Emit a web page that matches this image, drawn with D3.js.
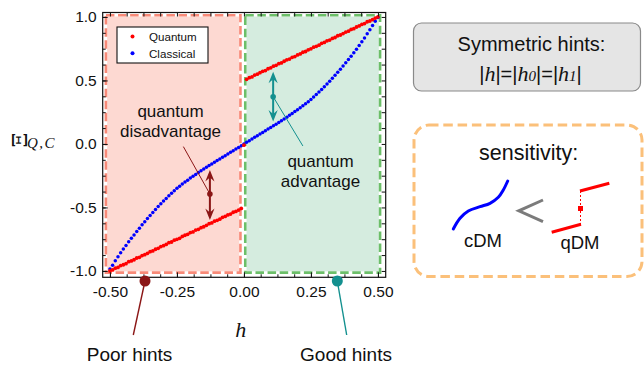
<!DOCTYPE html>
<html><head><meta charset="utf-8">
<script src="https://cdn.jsdelivr.net/npm/d3@7"></script>
<style>body{margin:0;background:#fff} svg{display:block}</style>
</head><body>
<svg id="c" width="644" height="366"></svg>
<script>
// ---------- data ----------
const hStart = -0.5, hStep = 0.01;   // h grid: -0.50 ... 0.50
const quantum = [
 -1.000,-0.992,-0.978,-0.972,-0.958,-0.951,-0.943,-0.927,-0.921,-0.912,
 -0.898,-0.893,-0.879,-0.872,-0.861,-0.848,-0.842,-0.829,-0.822,-0.808,
 -0.801,-0.791,-0.777,-0.772,-0.758,-0.751,-0.743,-0.728,-0.719,-0.712,
 -0.698,-0.693,-0.678,-0.672,-0.659,-0.652,-0.641,-0.628,-0.622,-0.608,
 -0.601,-0.592,-0.578,-0.571,-0.559,-0.552,-0.538,-0.531,-0.521,-0.508,
 -0.010,
  0.509, 0.522, 0.528, 0.542, 0.549, 0.561, 0.572, 0.578, 0.592, 0.599,
  0.612, 0.619, 0.632, 0.638, 0.651, 0.662, 0.668, 0.682, 0.688, 0.701,
  0.709, 0.722, 0.728, 0.741, 0.749, 0.762, 0.769, 0.778, 0.792, 0.799,
  0.812, 0.818, 0.831, 0.838, 0.852, 0.858, 0.869, 0.881, 0.888, 0.902,
  0.908, 0.921, 0.929, 0.941, 0.948, 0.962, 0.968, 0.979, 0.991, 1.000];
const classical = [
 -0.985,-0.955,-0.920,-0.888,-0.857,-0.828,-0.800,-0.771,-0.743,-0.716,
 -0.689,-0.663,-0.637,-0.613,-0.588,-0.563,-0.540,-0.517,-0.493,-0.471,
 -0.449,-0.429,-0.408,-0.388,-0.369,-0.349,-0.333,-0.316,-0.300,-0.285,
 -0.269,-0.254,-0.240,-0.225,-0.211,-0.197,-0.183,-0.170,-0.157,-0.144,
 -0.131,-0.118,-0.105,-0.092,-0.079,-0.066,-0.053,-0.040,-0.027,-0.014,
  0.000,
  0.013, 0.026, 0.039, 0.052, 0.065, 0.078, 0.091, 0.104, 0.117, 0.130,
  0.143, 0.156, 0.169, 0.182, 0.196, 0.210, 0.225, 0.240, 0.255, 0.270,
  0.285, 0.301, 0.317, 0.333, 0.350, 0.369, 0.389, 0.409, 0.429, 0.450,
  0.472, 0.494, 0.517, 0.541, 0.565, 0.589, 0.614, 0.639, 0.664, 0.690,
  0.718, 0.746, 0.775, 0.805, 0.835, 0.867, 0.899, 0.932, 0.966, 0.995];
const seriesNames = ["Quantum", "Classical"];
const xTicks = [-0.5, -0.25, 0, 0.25, 0.5];
const xTickLabels = ["-0.50", "-0.25", "0.00", "0.25", "0.50"];
const yTicks = [-1, -0.5, 0, 0.5, 1];
const yTickLabels = ["-1.0", "-0.5", "0.0", "0.5", "1.0"];
const xMinorStep = 0.0625, yMinorStep = 0.125;
const regions = [
  {h0: -0.515, h1: -0.013, v0: -1.013, v1: 1.013, key: "poor"},
  {h0: 0.005, h1: 0.508, v0: -1.013, v1: 1.013, key: "good"}];
// annotation anchors (data coords)
const disArrow = {h: -0.127, top: -0.205, bottom: -0.598, mid: -0.394, ptrH: -0.226, ptrV: -0.021};
const advArrow = {h: 0.109, top: 0.569, bottom: 0.176, mid: 0.372, ptrH: 0.220, ptrV: -0.016};

// ---------- styles ----------
const SANS = "'Liberation Sans', Arial, Helvetica, sans-serif";
const SERIF = "'Liberation Serif', 'Times New Roman', serif";
const RED = "#ff0000", BLUE = "#0000ff";
const DARKRED = "#8b1616", TEAL = "#13908f";
const regionStyle = {
  poor: {fill: "#fdd9d2", stroke: "#f88a78"},
  good: {fill: "#d5ecdf", stroke: "#6cbf69"}};

const svg = d3.select("#c");
const L = 102.7, R = 385.7, T = 12.5, B = 277.3;
const x = d3.scaleLinear().domain([-0.527, 0.529]).range([L, R]);
const y = d3.scaleLinear().domain([-1.05, 1.035]).range([B, T]);

const hOf = i => hStart + i * hStep;

// regions
const gReg = svg.append("g");
regions.forEach(r => {
  const st = regionStyle[r.key];
  const rx = x(r.h0), ry = y(r.v1), rw = x(r.h1) - x(r.h0), rh = y(r.v0) - y(r.v1);
  gReg.append("rect").attr("x", rx).attr("y", ry).attr("width", rw).attr("height", rh)
    .attr("fill", st.fill).attr("stroke", "#fff").attr("stroke-width", 2.5);
  gReg.append("rect").attr("x", rx).attr("y", ry).attr("width", rw).attr("height", rh)
    .attr("fill", "none").attr("stroke", st.stroke).attr("stroke-width", 2.6)
    .attr("stroke-dasharray", "8.5,3.6");
});

// series
svg.append("g").selectAll("circle").data(classical).join("circle")
  .attr("cx", (d, i) => x(hOf(i))).attr("cy", d => y(d)).attr("r", 1.75).attr("fill", BLUE);
svg.append("g").selectAll("circle").data(quantum).join("circle")
  .attr("cx", (d, i) => x(hOf(i))).attr("cy", d => y(d)).attr("r", 1.9).attr("fill", RED);

// double arrows
function dblArrow(a, color) {
  const g = svg.append("g");
  const cx = x(a.h), y1 = y(a.top), y2 = y(a.bottom), ym = y(a.mid);
  g.append("line").attr("x1", x(a.ptrH)).attr("y1", y(a.ptrV)).attr("x2", cx).attr("y2", ym)
    .attr("stroke", color).attr("stroke-width", 1);
  g.append("line").attr("x1", cx).attr("x2", cx).attr("y1", y1 + 4).attr("y2", y2 - 4)
    .attr("stroke", color).attr("stroke-width", 2);
  const hw = 4.6, hl = 11.5, notch = 7.5;
  g.append("path").attr("fill", color)
    .attr("d", `M${cx},${y1}L${cx + hw},${y1 + hl}L${cx},${y1 + notch}L${cx - hw},${y1 + hl}Z`);
  g.append("path").attr("fill", color)
    .attr("d", `M${cx},${y2}L${cx + hw},${y2 - hl}L${cx},${y2 - notch}L${cx - hw},${y2 - hl}Z`);
  g.append("circle").attr("cx", cx).attr("cy", ym).attr("r", 2.8).attr("fill", color);
}
dblArrow(disArrow, DARKRED);
dblArrow(advArrow, TEAL);

// annotation texts
const ann = svg.append("g").attr("font-family", SANS).attr("font-size", 17).attr("text-anchor", "middle").attr("fill", "#111");
ann.append("text").attr("x", 170.5).attr("y", 117).text("quantum");
ann.append("text").attr("x", 170.5).attr("y", 137).text("disadvantage");
ann.append("text").attr("x", 320.5).attr("y", 166.5).text("quantum");
ann.append("text").attr("x", 320.5).attr("y", 187).text("advantage");

// legend
const lg = svg.append("g");
lg.append("rect").attr("x", 117).attr("y", 27).attr("width", 91).attr("height", 36)
  .attr("fill", "#fff").attr("stroke", "#111").attr("stroke-width", 1.1);
[RED, BLUE].forEach((c, i) => {
  lg.append("circle").attr("cx", 132.5).attr("cy", 36.5 + i * 16.8).attr("r", 2).attr("fill", c);
  lg.append("text").attr("x", 149).attr("y", 40.7 + i * 16.8).attr("font-family", SANS)
    .attr("font-size", 11.6).attr("fill", "#111").text(seriesNames[i]);
});

// axes
function styleAxis(g) {
  g.select(".domain").remove();
  g.selectAll(".tick line").attr("stroke", "#111");
  g.selectAll(".tick text").attr("font-family", SANS).attr("font-size", 15.5).attr("fill", "#111");
}
const xMinor = d3.range(-0.5, 0.5001, xMinorStep);
const yMinor = d3.range(-1, 1.0001, yMinorStep);
svg.append("g").attr("transform", `translate(0,${B})`)
  .call(d3.axisBottom(x).tickValues(xMinor).tickSize(-3).tickFormat("")).call(styleAxis);
svg.append("g").attr("transform", `translate(0,${B})`)
  .call(d3.axisBottom(x).tickValues(xTicks).tickFormat((d, i) => xTickLabels[i]).tickSizeInner(-5).tickSizeOuter(0).tickPadding(9)).call(styleAxis);
svg.append("g").attr("transform", `translate(0,${T})`)
  .call(d3.axisTop(x).tickValues(xMinor).tickSize(-4).tickFormat("")).call(styleAxis);
svg.append("g").attr("transform", `translate(${L},0)`)
  .call(d3.axisLeft(y).tickValues(yMinor).tickSize(-3).tickFormat("")).call(styleAxis);
svg.append("g").attr("transform", `translate(${L},0)`)
  .call(d3.axisLeft(y).tickValues(yTicks).tickFormat((d, i) => yTickLabels[i]).tickSizeInner(-5).tickSizeOuter(0).tickPadding(6)).call(styleAxis);
svg.append("g").attr("transform", `translate(${R},0)`)
  .call(d3.axisRight(y).tickValues(yMinor).tickSize(-4).tickFormat("")).call(styleAxis);
svg.append("rect").attr("x", L).attr("y", T).attr("width", R - L).attr("height", B - T)
  .attr("fill", "none").attr("stroke", "#111").attr("stroke-width", 1.2);

// axis titles
svg.append("text").attr("x", 240.8).attr("y", 336.5).attr("text-anchor", "middle")
  .attr("font-family", SERIF).attr("font-style", "italic").attr("font-size", 22).attr("fill", "#111").text("h");
svg.append("text").attr("transform", "translate(19.5,140) rotate(-90)").attr("text-anchor", "middle")
  .attr("dy", "0.36em").attr("font-family", "'DejaVu Serif', serif").attr("font-size", 21).attr("fill", "#111").text("Ξ");
svg.append("text").attr("x", 27).attr("y", 148).attr("font-family", SERIF).attr("font-style", "italic")
  .attr("font-size", 15).attr("letter-spacing", 1.5).attr("fill", "#111").text("Q,C");

// hint markers
function hintMarker(cx, cy, ex, ey, color, label, tx) {
  svg.append("line").attr("x1", cx).attr("y1", cy).attr("x2", ex).attr("y2", ey)
    .attr("stroke", color).attr("stroke-width", 1.4);
  svg.append("circle").attr("cx", cx).attr("cy", cy).attr("r", 5.5).attr("fill", color);
  svg.append("text").attr("x", tx).attr("y", 361).attr("text-anchor", "middle")
    .attr("font-family", SANS).attr("font-size", 19).attr("fill", "#111").text(label);
}
hintMarker(145, 281, 133.3, 335, DARKRED, "Poor hints", 129.5);
hintMarker(337.3, 281, 346.7, 335, TEAL, "Good hints", 346);

// right boxes
svg.append("rect").attr("x", 413.5).attr("y", 23).attr("width", 227).attr("height", 68).attr("rx", 8)
  .attr("fill", "#e5e5e5").attr("stroke", "#8a8a8a").attr("stroke-width", 1.2);
svg.append("text").attr("x", 531.5).attr("y", 50.5).attr("text-anchor", "middle")
  .attr("font-family", SANS).attr("font-size", 20).attr("fill", "#111").text("Symmetric hints:");
const eq = svg.append("text").attr("x", 530.5).attr("y", 81).attr("text-anchor", "middle")
  .attr("font-family", SANS).attr("font-size", 20).attr("fill", "#111");
const parts = [["|", 0], ["h", 1], ["|=|", 0], ["h", 1], ["0", 2], ["|=|", 0], ["h", 1], ["1", 2], ["|", 0]];
parts.forEach(([t, k]) => {
  const ts = eq.append("tspan").text(t);
  if (k >= 1) ts.attr("font-family", SERIF).attr("font-style", "italic").attr("font-size", k === 1 ? 22 : 15);
});

svg.append("rect").attr("x", 414).attr("y", 125).attr("width", 228).attr("height", 151.5).attr("rx", 15)
  .attr("fill", "none").attr("stroke", "#fbc07a").attr("stroke-width", 3).attr("stroke-dasharray", "9.5,4.8");
svg.append("text").attr("x", 528.6).attr("y", 160).attr("text-anchor", "middle")
  .attr("font-family", SANS).attr("font-size", 21.5).attr("fill", "#111").text("sensitivity:");

// cDM icon
const iconPts = [[453.3,229],[460,218.3],[468.3,211],[480,206.7],[490,203.3],[498.3,197.3],[503.3,190],[507.7,181]];
svg.append("path").attr("d", d3.line().curve(d3.curveCatmullRom)(iconPts))
  .attr("fill", "none").attr("stroke", BLUE).attr("stroke-width", 3).attr("stroke-linecap", "round");
svg.append("path").attr("d", "M543,200L518.8,210.8L543,221.6").attr("fill", "none")
  .attr("stroke", "#7b7b7b").attr("stroke-width", 3);
// qDM icon
svg.append("line").attr("x1", 551.7).attr("y1", 232.3).attr("x2", 581).attr("y2", 224.3).attr("stroke", RED).attr("stroke-width", 3);
svg.append("line").attr("x1", 580).attr("y1", 191).attr("x2", 609.3).attr("y2", 183.3).attr("stroke", RED).attr("stroke-width", 3);
svg.append("line").attr("x1", 580.5).attr("y1", 191).attr("x2", 580.5).attr("y2", 224.3).attr("stroke", RED)
  .attr("stroke-width", 1).attr("stroke-dasharray", "2,2");
svg.append("rect").attr("x", 578).attr("y", 206).attr("width", 5).attr("height", 5).attr("fill", RED);
svg.append("text").attr("x", 483).attr("y", 246.7).attr("text-anchor", "middle")
  .attr("font-family", SANS).attr("font-size", 18.5).attr("fill", "#111").text("cDM");
svg.append("text").attr("x", 580).attr("y", 249.3).attr("text-anchor", "middle")
  .attr("font-family", SANS).attr("font-size", 18.5).attr("fill", "#111").text("qDM");
</script>
</body></html>
